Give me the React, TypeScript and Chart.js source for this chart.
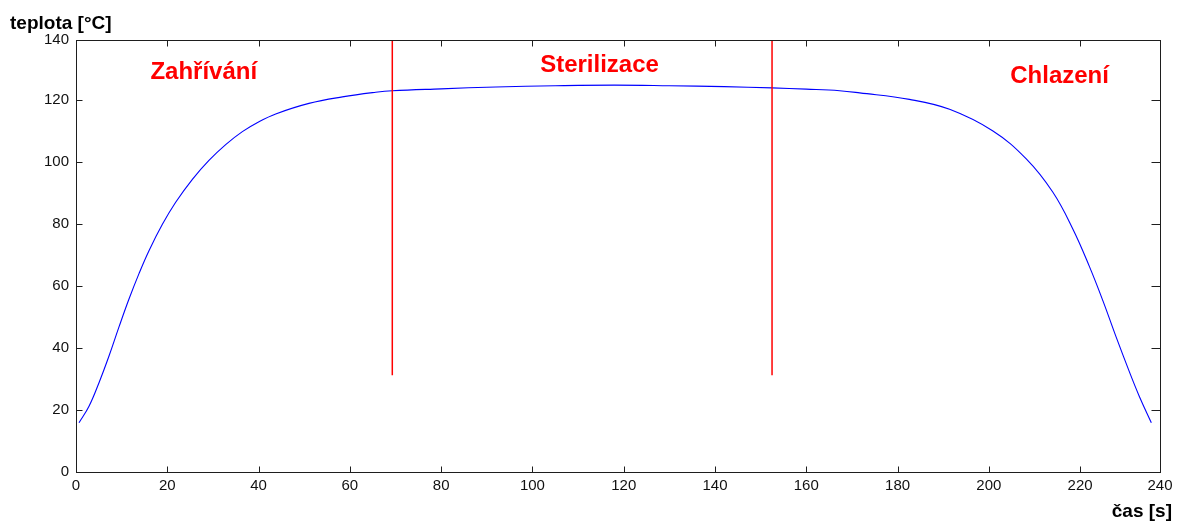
import React, { useEffect, useRef } from 'react';
import { Chart, registerables } from 'chart.js';

Chart.register(...registerables);

// ---- data ----
const timeS = [
  0.66, 2.85, 5.04, 7.23, 9.42, 11.61, 13.8, 15.99, 18.93, 21.84, 25.5, 29.13, 32.79, 36.45,
  40.09, 43.75, 51.04, 58.36, 65.65, 69.3, 80, 92, 105, 118, 130, 142, 152.5, 160, 167.3,
  171.7, 182.6, 191.4, 200.9, 208.2, 214, 218.4, 222, 225, 227.9, 230.8, 233, 235.6,
];
const tempC = [
  15.9, 21.2, 28.8, 37.4, 46.8, 55.8, 64.0, 71.4, 79.9, 87.0, 94.4, 100.5, 105.6, 109.8,
  113.0, 115.5, 118.9, 121.0, 122.5, 123.0, 123.6, 124.2, 124.6, 124.8, 124.6, 124.3, 123.9, 123.5, 123.0,
  122.3, 120.2, 117.0, 110.0, 101.0, 90.3, 78.4, 66.4, 55.2, 43.5, 32.3, 24.3, 15.9,
];

const boundaryTimes = [69.3, 152.5];
const boundaryLow = 31.2;
const boundaryHigh = 140;

const phaseNames = ['Zahřívání', 'Sterilizace', 'Chlazení'];
const phaseLabelX = [28, 114.7, 215.5];
const phaseLabelY = [128.9, 131.1, 127.6];

const xMax = 237.5;
const yMax = 139.35;
const xTickValues = [0, 20, 40, 60, 80, 100, 120, 140, 160, 180, 200, 220, 237.5];
const xTickLabels = ['0', '20', '40', '60', '80', '100', '120', '140', '160', '180', '200', '220', '240'];
const yTickValues = [0, 20, 40, 60, 80, 100, 120, 139.35];
const yTickLabels = ['0', '20', '40', '60', '80', '100', '120', '140'];

const yTitle = 'teplota [°C]';
const xTitle = 'čas [s]';

const FONT = '"Liberation Sans", Arial, Helvetica, sans-serif';

const decorPlugin = {
  id: 'decor',
  afterDatasetsDraw(chart: any) {
    const { ctx, scales } = chart;
    const x = scales.x;
    const y = scales.y;
    ctx.save();
    ctx.font = `bold 24px ${FONT}`;
    ctx.fillStyle = '#ff0000';
    ctx.textAlign = 'center';
    ctx.textBaseline = 'middle';
    phaseNames.forEach((name, i) => {
      ctx.fillText(name, x.getPixelForValue(phaseLabelX[i]), y.getPixelForValue(phaseLabelY[i]));
    });
    ctx.restore();
  },
  afterDraw(chart: any) {
    const { ctx, chartArea: a, scales } = chart;
    const x = scales.x;
    const y = scales.y;
    const L = Math.round(a.left) + 0.5;
    const R = Math.round(a.right) + 0.5;
    const T = Math.round(a.top) + 0.5;
    const B = Math.round(a.bottom) + 0.5;
    ctx.save();
    ctx.strokeStyle = '#1e1e1e';
    ctx.lineWidth = 1;
    ctx.strokeRect(L, T, R - L, B - T);
    ctx.beginPath();
    x.ticks.forEach((t: any) => {
      if (t.value <= 0 || t.value >= xMax) return;
      const px = Math.round(x.getPixelForValue(t.value)) + 0.5;
      ctx.moveTo(px, B);
      ctx.lineTo(px, B - 6);
      ctx.moveTo(px, T);
      ctx.lineTo(px, T + 6);
    });
    y.ticks.forEach((t: any) => {
      if (t.value <= 0 || t.value >= yMax) return;
      const py = Math.round(y.getPixelForValue(t.value)) + 0.5;
      ctx.moveTo(L, py);
      ctx.lineTo(L + 6, py);
      ctx.moveTo(R, py);
      ctx.lineTo(R - 9, py);
    });
    ctx.stroke();

    ctx.fillStyle = '#000';
    ctx.font = `bold 19px ${FONT}`;
    ctx.textBaseline = 'middle';
    ctx.textAlign = 'left';
    ctx.fillText(yTitle, 10, 24);
    ctx.textAlign = 'right';
    ctx.fillText(xTitle, 1172, 512);
    ctx.restore();
  },
};

export default function App() {
  const ref = useRef<HTMLCanvasElement | null>(null);

  useEffect(() => {
    document.body.style.margin = '0';
    const canvas = ref.current;
    if (!canvas) return;
    const curve = timeS.map((t, i) => ({ x: t, y: tempC[i] }));
    const boundaries = boundaryTimes.map((t) => ({
      label: 'hranice',
      data: [
        { x: t, y: boundaryLow },
        { x: t, y: boundaryHigh },
      ],
      borderColor: '#ff0000',
      borderWidth: 1.5,
      pointRadius: 0,
      fill: false,
      order: 0,
    }));
    const chart = new Chart(canvas, {
      type: 'line',
      data: {
        datasets: [
          ...boundaries,
          {
            label: 'teplota',
            data: curve,
            borderColor: '#0000ff',
            borderWidth: 1.1,
            pointRadius: 0,
            fill: false,
            tension: 0.4,
            order: 1,
          },
        ],
      },
      options: {
        animation: false,
        responsive: false,
        maintainAspectRatio: false,
        layout: { padding: { left: 0, right: 25, top: 40, bottom: 0 } },
        plugins: {
          legend: { display: false },
          tooltip: { enabled: false },
        },
        scales: {
          x: {
            type: 'linear',
            min: 0,
            max: xMax,
            grid: { display: false, drawTicks: false },
            border: { display: false },
            afterBuildTicks: (scale: any) => {
              scale.ticks = xTickValues.map((v) => ({ value: v }));
            },
            afterFit: (scale: any) => {
              scale.height = 50;
            },
            ticks: {
              autoSkip: false,
              maxRotation: 0,
              padding: 5,
              color: '#111',
              font: { family: FONT, size: 15 },
              callback: (_v: any, i: number) => xTickLabels[i],
            },
          },
          y: {
            type: 'linear',
            min: 0,
            max: yMax,
            grid: { display: false, drawTicks: false },
            border: { display: false },
            afterBuildTicks: (scale: any) => {
              scale.ticks = yTickValues.map((v) => ({ value: v }));
            },
            afterFit: (scale: any) => {
              scale.width = 76;
            },
            ticks: {
              autoSkip: false,
              padding: 7,
              color: '#111',
              font: { family: FONT, size: 15 },
              callback: (_v: any, i: number) => yTickLabels[i],
            },
          },
        },
      },
      plugins: [decorPlugin],
    } as any);
    return () => chart.destroy();
  }, []);

  return (
    <div style={{ width: 1185, height: 522, background: '#fff' }}>
      <canvas ref={ref} width={1185} height={522} style={{ display: 'block' }} />
    </div>
  );
}
